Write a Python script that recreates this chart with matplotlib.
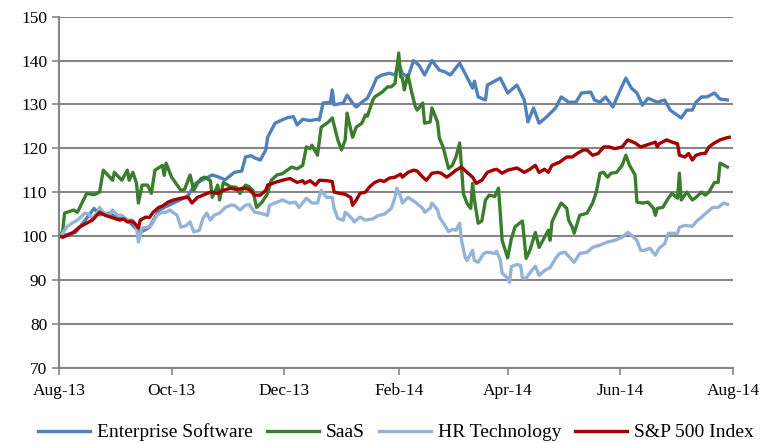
import numpy as np
import pandas as pd
import matplotlib
matplotlib.use('Agg')
import matplotlib.pyplot as plt
import matplotlib.dates as mdates

# day offsets are counted from 1 Aug 2013, values are indexed to 100
start = pd.Timestamp('2013-08-01')

es_days = [0, 4, 9, 14, 19, 22, 27, 30, 36, 41, 44, 47, 49, 54, 57, 63, 67, 70, 74, 78,
           83, 86, 90, 95, 99, 101, 104, 106, 109, 112, 113, 117, 121, 124, 127, 129, 132, 136, 140, 141,
           143, 147, 148, 149, 154, 156, 159, 161, 164, 167, 170, 172, 175, 179, 182, 184, 186, 189, 192, 195,
           198, 202, 206, 209, 212, 217, 220, 224, 225, 227, 231, 232, 239, 243, 248, 252, 254, 257, 260, 264,
           269, 272, 276, 280, 283, 288, 290, 293, 296, 300, 304, 307, 310, 313, 316, 319, 324, 328, 331, 337,
           340, 343, 345, 348, 351, 355, 358, 362]
es_vals = [100.0, 100.3, 100.8, 103.5, 106.3, 104.8, 105.2, 104.5, 104.0, 102.0,
           100.8, 101.5, 102.0, 105.8, 106.5, 107.7, 108.5, 109.3, 112.0, 112.8,
           113.9, 113.5, 112.8, 114.5, 114.8, 118.0, 118.3, 117.8, 117.3, 119.6,
           122.5, 125.7, 126.5, 127.0, 127.2, 125.3, 126.6, 126.3, 126.6, 126.4,
           130.3, 130.5, 133.3, 129.9, 130.3, 132.1, 130.3, 129.4, 130.5, 131.4,
           134.0, 136.0, 136.7, 137.1, 136.7, 139.4, 137.0, 136.2, 140.0, 138.9,
           136.7, 140.0, 137.8, 137.4, 136.7, 139.4, 137.0, 133.7, 135.3, 131.7,
           131.0, 134.4, 136.0, 132.6, 134.4, 131.0, 126.0, 129.2, 125.7, 127.1,
           129.2, 131.7, 130.5, 130.5, 132.6, 132.8, 131.0, 130.5, 131.7, 129.4,
           133.3, 136.0, 133.7, 132.6, 129.8, 131.4, 130.5, 131.0, 128.7, 126.9,
           128.7, 128.7, 130.5, 131.7, 131.7, 132.6, 131.2, 131.0]

saas_days = [0, 2, 3, 8, 10, 15, 19, 22, 24, 29, 30, 34, 37, 38, 40, 42, 43, 45, 48, 50,
             52, 56, 57, 58, 61, 66, 68, 71, 73, 75, 77, 79, 82, 83, 86, 87, 89, 93, 96, 98,
             101, 103, 105, 107, 110, 113, 115, 118, 121, 125, 126, 129, 132, 134, 136, 137, 140, 142, 146, 148,
             151, 153, 155, 156, 159, 161, 164, 166, 167, 170, 171, 175, 178, 180, 182, 184, 185, 186, 187, 189,
             191, 193, 194, 197, 198, 201, 202, 205, 206, 208, 211, 213, 215, 217, 218, 219, 221, 223, 224, 225,
             227, 229, 231, 233, 236, 238, 239, 240, 243, 245, 247, 251, 253, 255, 258, 260, 263, 265, 266, 267,
             270, 272, 275, 276, 278, 279, 282, 286, 289, 291, 293, 295, 297, 299, 302, 305, 307, 309, 312, 313,
             316, 319, 322, 323, 324, 327, 330, 332, 335, 336, 337, 340, 343, 345, 348, 350, 352, 355, 357, 358,
             362]
saas_vals = [100.0, 101.0, 105.2, 105.9, 105.4, 109.7, 109.4, 110.0, 115.0, 112.7,
             114.5, 112.7, 115.0, 112.7, 114.5, 112.0, 107.5, 111.6, 111.6, 109.7,
             115.0, 116.1, 113.8, 116.6, 113.4, 110.4, 110.6, 113.9, 110.4, 112.0,
             113.1, 113.4, 112.6, 108.8, 111.6, 108.2, 112.2, 111.2, 111.1, 109.7,
             111.6, 111.2, 110.4, 106.5, 107.7, 109.7, 112.7, 113.9, 114.2, 115.4,
             115.7, 115.3, 116.1, 120.3, 119.9, 120.7, 118.4, 124.8, 126.0, 126.9,
             121.9, 119.6, 121.9, 128.0, 122.5, 124.8, 125.7, 127.6, 127.3, 131.0,
             131.7, 132.8, 134.0, 134.0, 134.8, 141.7, 136.3, 136.0, 133.3, 136.7,
             132.8, 129.4, 128.7, 130.3, 125.7, 126.0, 129.2, 126.0, 122.3, 120.3,
             115.4, 116.1, 118.0, 121.2, 115.7, 109.7, 107.4, 106.3, 112.0, 108.2,
             102.9, 103.4, 108.2, 109.3, 109.0, 110.9, 105.2, 99.0, 95.0, 99.4,
             102.1, 103.4, 94.9, 96.7, 100.8, 97.4, 99.7, 101.3, 99.0, 103.2,
             105.9, 107.5, 106.3, 103.6, 102.0, 100.6, 104.7, 105.2, 107.5, 110.0,
             114.3, 114.5, 113.4, 114.3, 114.5, 116.1, 118.4, 116.1, 113.9, 107.7,
             107.5, 107.7, 106.3, 104.7, 106.3, 106.5, 108.6, 109.7, 108.6, 114.3,
             108.2, 110.0, 108.2, 108.8, 110.0, 109.3, 110.0, 112.2, 112.2, 116.6,
             115.7]

hr_days = [0, 2, 4, 7, 10, 14, 16, 18, 21, 22, 24, 27, 29, 32, 34, 37, 40, 42, 43, 45,
           48, 50, 53, 56, 58, 60, 64, 66, 69, 71, 73, 76, 78, 80, 82, 84, 87, 90, 93, 95,
           98, 101, 103, 106, 109, 113, 114, 118, 121, 125, 128, 130, 134, 137, 140, 142, 145, 148, 149, 151,
           154, 155, 158, 160, 163, 166, 170, 173, 176, 180, 182, 183, 185, 186, 189, 193, 197, 198, 201, 202,
           205, 206, 209, 211, 213, 215, 217, 218, 220, 221, 224, 225, 227, 230, 232, 236, 237, 239, 240, 243,
           244, 245, 248, 250, 251, 253, 256, 258, 260, 263, 266, 269, 271, 274, 277, 279, 282, 286, 289, 293,
           297, 301, 305, 308, 310, 313, 315, 317, 320, 323, 325, 328, 330, 332, 335, 336, 339, 343, 345, 348,
           351, 354, 357, 360, 362]
hr_vals = [100.0, 100.6, 102.0, 102.9, 103.6, 105.2, 105.0, 104.0, 105.4, 106.5,
           105.4, 104.7, 105.9, 104.7, 104.7, 103.6, 103.6, 101.8, 98.6, 101.8,
           102.0, 102.4, 104.7, 105.4, 105.4, 105.9, 104.7, 102.0, 102.4, 103.2,
           100.9, 101.3, 104.0, 105.2, 103.6, 104.7, 105.2, 106.5, 107.0, 107.0,
           105.9, 107.0, 107.2, 105.4, 105.2, 104.7, 107.0, 107.7, 108.2, 107.5,
           107.7, 106.5, 108.6, 107.5, 107.5, 110.4, 108.8, 108.8, 106.3, 104.0,
           103.6, 105.4, 104.3, 103.2, 104.3, 103.6, 103.9, 104.7, 104.9, 106.3,
           108.8, 110.9, 109.0, 107.5, 108.8, 107.7, 106.3, 105.4, 106.3, 107.5,
           106.0, 104.3, 102.4, 101.0, 101.5, 101.3, 102.9, 99.0, 95.1, 94.4,
           96.7, 94.4, 94.0, 96.0, 96.3, 96.0, 96.5, 94.5, 91.5, 90.4,
           89.4, 93.0, 93.5, 93.3, 90.4, 90.4, 92.1, 93.1, 91.0, 92.1,
           92.8, 94.9, 96.0, 96.3, 94.9, 94.0, 96.0, 96.3, 97.4, 97.9,
           98.6, 99.0, 99.7, 100.8, 100.2, 99.0, 96.7, 96.7, 97.2, 95.6,
           97.2, 98.2, 100.6, 100.6, 100.6, 102.0, 102.4, 102.2, 103.2, 104.3,
           105.4, 106.5, 106.5, 107.5, 107.2]

sp_days = [0, 2, 5, 8, 11, 15, 18, 19, 22, 25, 28, 30, 33, 35, 37, 39, 41, 43, 44, 47,
           49, 51, 54, 56, 59, 62, 66, 70, 72, 75, 78, 82, 86, 89, 93, 96, 100, 103, 106, 109,
           112, 113, 117, 121, 125, 129, 132, 133, 136, 139, 141, 145, 148, 149, 152, 155, 158, 159, 161, 163,
           166, 168, 171, 174, 176, 179, 182, 185, 186, 189, 192, 194, 197, 199, 202, 205, 207, 210, 213, 215,
           218, 221, 224, 226, 229, 232, 235, 237, 240, 243, 245, 248, 252, 255, 258, 260, 263, 265, 267, 271,
           275, 278, 281, 284, 286, 289, 292, 295, 298, 301, 305, 308, 312, 315, 318, 323, 324, 325, 329, 332,
           335, 336, 339, 341, 343, 345, 348, 350, 352, 355, 358, 361, 363]
sp_vals = [100.0, 99.7, 100.2, 100.9, 102.0, 102.9, 103.6, 104.0, 105.4, 104.7,
           104.3, 104.0, 103.6, 103.9, 103.2, 103.4, 102.9, 101.8, 103.6, 104.3,
           104.2, 105.4, 106.5, 106.8, 107.7, 108.2, 108.6, 108.8, 107.5, 108.8,
           109.3, 110.0, 109.7, 110.4, 110.9, 110.6, 110.9, 110.6, 109.3, 109.3,
           110.4, 111.6, 112.2, 112.7, 113.1, 112.2, 112.6, 112.0, 112.6, 111.6,
           112.7, 112.6, 112.4, 110.0, 109.7, 109.5, 108.8, 107.0, 108.2, 109.7,
           110.0, 111.1, 112.2, 112.7, 112.4, 113.2, 113.4, 114.1, 113.4, 114.5,
           115.0, 114.8, 113.4, 112.7, 114.3, 114.5, 114.3, 113.4, 114.3, 115.0,
           115.7, 114.5, 113.4, 112.0, 112.7, 114.5, 115.0, 115.2, 114.3, 115.0,
           115.2, 115.5, 114.5, 115.2, 116.1, 114.5, 115.2, 114.5, 116.1, 116.8,
           118.0, 118.0, 118.9, 119.6, 119.6, 118.4, 118.8, 120.3, 120.3, 119.9,
           120.3, 121.9, 121.2, 120.3, 120.7, 121.4, 120.3, 121.0, 121.9, 121.4,
           121.0, 118.4, 118.0, 118.8, 117.3, 118.4, 118.8, 118.8, 120.3, 121.2,
           121.9, 122.3, 122.5]

names = ['Enterprise Software', 'SaaS', 'HR Technology', 'S&P 500 Index']
colors = ['#4F81BD', '#3A7D2C', '#95B3D7', '#A50000']
tick_dates = ['2013-08-01', '2013-10-01', '2013-12-01', '2014-02-01',
              '2014-04-01', '2014-06-01', '2014-08-01']

plt.rcParams['font.family'] = ['Liberation Serif', 'DejaVu Serif']

fig = plt.figure(figsize=(7.72, 4.43), dpi=100)
ax = fig.add_axes([0.0764, 0.1704, 0.873, 0.792])

series = [(es_days, es_vals), (saas_days, saas_vals), (hr_days, hr_vals), (sp_days, sp_vals)]
for (d, v), name, c in zip(series, names, colors):
    dates = start + pd.to_timedelta(d, unit='D')
    ax.plot(dates, v, color=c, lw=2.4, label=name, solid_joinstyle='round')

ax.set_ylim(70, 150)
ax.set_yticks(np.arange(70, 151, 10))
ax.set_xlim(pd.Timestamp(tick_dates[0]), pd.Timestamp(tick_dates[-1]))
ax.set_xticks(pd.to_datetime(tick_dates))
ax.xaxis.set_major_formatter(mdates.DateFormatter('%b-%y'))

ax.grid(axis='y', color='#868686', lw=1.5)
ax.set_axisbelow(True)
for s in ['top', 'right']:
    ax.spines[s].set_visible(False)
for s in ['left', 'bottom']:
    ax.spines[s].set_color('#868686')
    ax.spines[s].set_linewidth(1.5)
ax.tick_params(axis='both', colors='#868686', width=1.2, length=5, labelsize=12.5,
               labelcolor='black')
ax.tick_params(axis='x', pad=6)

ax.legend(loc='upper center', bbox_to_anchor=(0.5, -0.11), ncol=4, frameon=False,
          fontsize=14, handlelength=2.7, columnspacing=0.7, handletextpad=0.35)

fig.savefig('out.png', dpi=100)
